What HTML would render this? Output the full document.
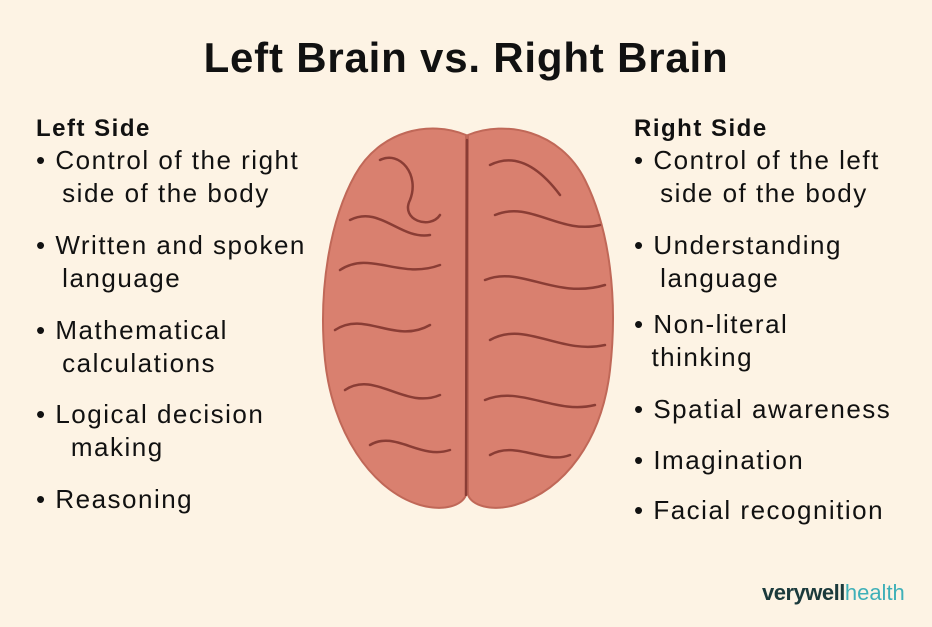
<!DOCTYPE html>
<html><head><style>
body{margin:0;width:932px;height:627px;background:#fdf3e4;font-family:"Liberation Sans",sans-serif;color:#111;position:relative;overflow:hidden}
h1{position:absolute;top:34px;left:0;width:932px;text-align:center;margin:0;font-size:42px;font-weight:bold;letter-spacing:0.8px}
.col{position:absolute;font-size:26px;line-height:33px;letter-spacing:1.5px}
.col b{font-size:24px;display:block;line-height:30px;letter-spacing:1.5px}
.col div{position:absolute;white-space:nowrap}
.logo{position:absolute;left:762px;top:580px;font-size:22px}
</style></head><body>
<h1>Left Brain vs. Right Brain</h1>
<div class="col" style="left:36px;top:114px"><b>Left Side</b>
<div style="top:30px">• Control of the right<br>&nbsp;&nbsp; side of the body</div>
<div style="top:115px">• Written and spoken<br>&nbsp;&nbsp; language</div>
<div style="top:200px">• Mathematical<br>&nbsp;&nbsp; calculations</div>
<div style="top:284px">• Logical decision<br>&nbsp;&nbsp;&nbsp; making</div>
<div style="top:369px">• Reasoning</div>
</div>
<div class="col" style="left:634px;top:114px"><b>Right Side</b>
<div style="top:30px">• Control of the left<br>&nbsp;&nbsp; side of the body</div>
<div style="top:115px">• Understanding<br>&nbsp;&nbsp; language</div>
<div style="top:194px">• Non-literal<br>&nbsp; thinking</div>
<div style="top:279px">• Spatial awareness</div>
<div style="top:330px">• Imagination</div>
<div style="top:380px">• Facial recognition</div>
</div>
<svg style="position:absolute;left:0;top:0" width="932" height="627">
<path d="M466,135 C430,120 380,130 355,175 C330,220 318,290 325,360 C332,430 370,490 420,505 C445,512 462,505 466,495 Z" fill="#d9806f" stroke="#c06858" stroke-width="2"/>
<path d="M468,135 C505,120 560,130 585,180 C610,230 618,300 610,370 C602,440 565,490 515,505 C490,512 472,505 468,495 Z" fill="#d9806f" stroke="#c06858" stroke-width="2"/>
<g fill="none" stroke="#8a3d35" stroke-width="2.5" stroke-linecap="round">
<path d="M467,140 L466,495"/>
<path d="M380,160 C400,150 420,175 410,200 C400,220 430,230 440,215"/>
<path d="M350,220 C380,205 400,240 430,235"/>
<path d="M340,270 C370,250 400,280 440,265"/>
<path d="M335,330 C365,310 395,345 430,325"/>
<path d="M345,390 C375,370 405,410 440,395"/>
<path d="M370,445 C395,430 420,460 450,450"/>
<path d="M490,165 C520,150 545,175 560,195"/>
<path d="M495,215 C530,200 560,235 600,225"/>
<path d="M485,280 C520,265 555,300 605,285"/>
<path d="M490,340 C525,320 560,355 605,345"/>
<path d="M485,400 C520,385 555,415 595,405"/>
<path d="M490,455 C515,440 545,465 570,455"/>
</g>
</svg>
<div class="logo"><b style="color:#1b3a3c;letter-spacing:-0.5px">verywell</b><span style="color:#3fb0b8">health</span></div>
</body></html>
